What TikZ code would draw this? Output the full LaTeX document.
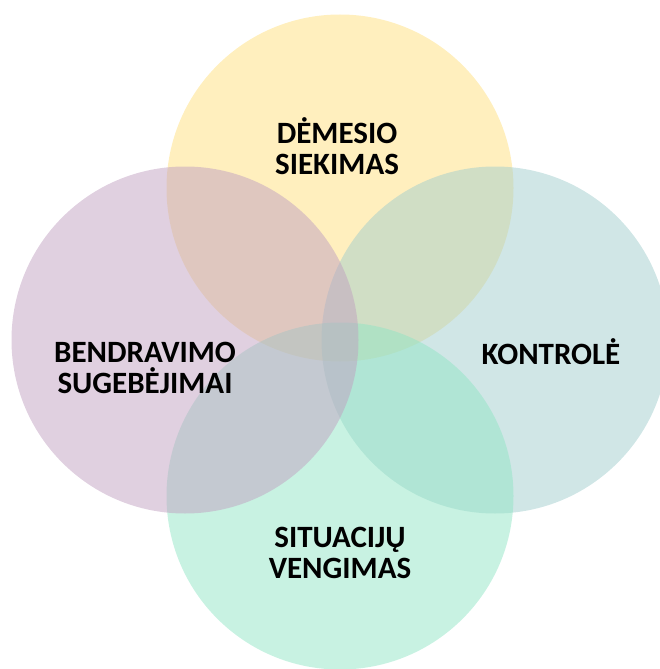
\documentclass[tikz,border=0pt]{standalone}
\usepackage{fontspec}
\setmainfont{Carlito}
\usepackage{tikz}
\usetikzlibrary{positioning}
\definecolor{dyellow}{RGB}{255,223,125}
\definecolor{dpurple}{RGB}{193,161,193}
\definecolor{dteal}{RGB}{161,205,205}
\definecolor{dmint}{RGB}{145,229,197}

\begin{document}
\begin{tikzpicture}[x=1pt,y=-1pt,
    big node/.style={circle,inner sep=0pt,minimum size=347pt,fill opacity=0.5},
    text node/.style={align=center,inner sep=0pt,font=\fontsize{31}{31}\selectfont\bfseries,text=black}]
   \useasboundingbox (0,0) rectangle (660,669);
   \clip (0,0) rectangle (660,669);
   \begin{scope}
     % circles
     \node[big node,fill=dyellow] (top) at (340,188) {};
     \node[big node,fill=dteal] (right) at (495,340) {};
     \node[big node,fill=dmint] (bottom) at (340,496) {};
     \node[big node,fill=dpurple] (left) at (185,340) {};
     % labels
     \node[text node] (att) at (337,146) {DĖMESIO\\SIEKIMAS};
     \node[text node] (ctrl) at (551,352) {KONTROLĖ};
     \node[text node] (comm) at (145,368) {BENDRAVIMO\\SUGEBĖJIMAI};
     \node[text node] (avoid) at (340,553) {SITUACIJŲ\\VENGIMAS};
   \end{scope}
\end{tikzpicture}
\end{document}
